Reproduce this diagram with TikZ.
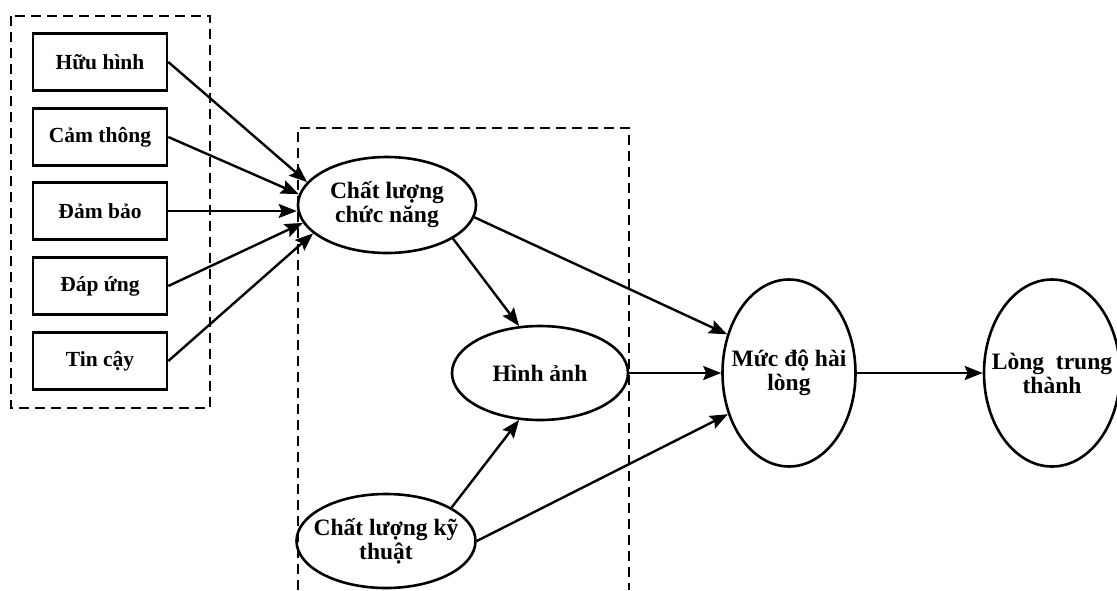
\documentclass[tikz,border=0pt]{standalone}
\usepackage{fontspec}
\setmainfont{Liberation Serif}
\usetikzlibrary{arrows.meta,shapes.geometric}
\begin{document}
\begin{tikzpicture}[x=1pt,y=-1pt,
  boxn/.style={draw,line width=2.6pt,minimum width=134pt,minimum height=57pt,inner sep=0pt,font=\fontsize{21.5}{24}\selectfont\bfseries},
  elln/.style={draw,ellipse,line width=2.6pt,inner sep=0pt},
  lbl/.style={align=center,inner sep=0pt,font=\fontsize{23.5}{24}\selectfont\bfseries},
  frame/.style={line width=1.5pt,dash pattern=on 10pt off 6pt},
  arr/.style={line width=2.4pt,-{Stealth[length=18pt,width=14pt,inset=3pt]}}]
\useasboundingbox (0,0) rectangle (1117,590);
% dashed frames
\draw[frame] (11,16) rectangle (210,408);
\draw[frame] (298,590) -- (298,128) -- (629,128) -- (629,590);
% boxes
\node[boxn] (b1) at (100,62) {Hữu hình};
\node[boxn] (b2) at (100,137) {Cảm thông};
\node[boxn] (b3) at (100,211) {Đảm bảo};
\node[boxn] (b4) at (100,286) {Đáp ứng};
\node[boxn] (b5) at (100,361) {Tin cậy};
% ellipses
\node[elln,minimum width=178pt,minimum height=96pt,label={[lbl]center:Chất lượng\\chức năng}] (clcn) at (387,205) {};
\node[elln,minimum width=176pt,minimum height=94pt,label={[lbl]center:Hình ảnh}] (ha) at (540,373) {};
\node[elln,minimum width=179pt,minimum height=94pt,label={[lbl]center:Chất lượng kỹ\\thuật}] (clkt) at (386,541) {};
\node[elln,minimum width=133pt,minimum height=187pt,label={[lbl]center:Mức độ hài\\lòng}] (md) at (789,373) {};
\node[elln,minimum width=136pt,minimum height=187pt,label={[lbl]center:Lòng~ trung\\thành}] (lt) at (1052,373) {};
% arrows
\coordinate (e3) at (b3.east -| clcn.west);
\draw[arr] (b1.east) -- (clcn.164);
\draw[arr] (b2.east) -- (clcn.173);
\draw[arr] (b3.east) -- (e3);
\draw[arr] (b4.east) -- (clcn.192);
\draw[arr] (b5.east) -- (clcn.201);
\draw[arr] (clcn.-27) -- (ha.114);
\draw[arr] (clkt.27) -- (ha.246);
\draw[arr] (clcn.-8) -- (md.148);
\draw[arr] (ha.east) -- (md.west);
\draw[arr] (clkt.0) -- (md.214);
\draw[arr] (md.east) -- (lt.west);
\end{tikzpicture}
\end{document}
